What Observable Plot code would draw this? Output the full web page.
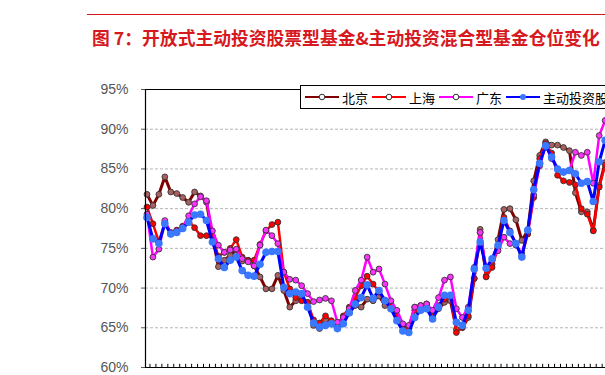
<!DOCTYPE html>
<html><head><meta charset="utf-8">
<script src="https://cdn.jsdelivr.net/npm/d3@7"></script>
<script src="https://cdn.jsdelivr.net/npm/@observablehq/plot@0.6"></script>
<style>
html,body{margin:0;padding:0;background:#fff}
body{width:605px;height:375px;overflow:hidden;position:relative}
#rule{position:absolute;left:87px;top:14px;width:530px;height:0;border-top:1.5px solid #d6191e}
#title{position:absolute;left:92px;top:24px;font-family:"Noto Sans CJK SC";font-weight:bold;font-size:17.8px;color:#d6191e;white-space:nowrap}
#chart{position:absolute;left:0;top:0}
#legend{position:absolute;left:300px;top:85px;width:340px;height:24px;border:1px solid #000;background:#fff;display:flex;align-items:center;padding-left:4px;box-sizing:border-box;font-family:"Noto Sans CJK SC";font-size:13px;color:#000;white-space:nowrap}
.item{display:flex;align-items:center;margin-right:4px}
.item svg{margin-right:3px}
</style>
</head><body>
<div id="rule"></div>
<div id="title">图 7：开放式主动投资股票型基金&amp;主动投资混合型基金仓位变化</div>
<div id="chart"></div>
<div id="legend"></div>
<script>
const seriesNames = ["北京", "上海", "广东", "主动投资股票型基金仓位"];
const yTicks = [60, 65, 70, 75, 80, 85, 90, 95];
const gridTicks = [65, 70, 75, 80, 85, 90];

const beijing = [81.8, 80.4, 81.8, 84.0, 82.1, 81.9, 81.4, 80.8, 82.1, 81.6,
 80.8, 76.5, 72.7, 73.5, 74.1, 74.8, 73.4, 73.5, 72.8, 71.4,
 69.9, 69.9, 71.6, 69.7, 67.6, 68.4, 68.8, 68.2, 65.3, 64.9,
 66.0, 65.5, 65.1, 66.1, 66.9, 67.8, 67.6, 68.6, 68.4, 69.0,
 67.8, 67.8, 66.5, 65.1, 64.9, 67.6, 67.8, 68.0, 66.3, 67.4,
 68.2, 68.4, 64.8, 65.0, 66.3, 71.2, 77.4, 71.5, 73.0, 76.1,
 79.9, 80.0, 78.6, 76.0, 77.2, 83.5, 86.7, 88.4, 88.0, 88.0,
 87.7, 87.3, 82.0, 79.6, 79.6, 77.3, 82.9, 85.8];
const shanghai = [80.2, 78.1, 75.8, 78.3, 77.0, 77.3, 77.8, 78.5, 77.6, 76.6,
 76.6, 76.5, 74.0, 74.5, 75.0, 76.1, 73.9, 73.5, 73.5, 75.5,
 77.2, 78.0, 78.3, 72.0, 69.9, 68.8, 68.4, 68.2, 66.0, 65.6,
 66.5, 65.9, 65.1, 66.5, 67.6, 68.8, 70.3, 71.5, 70.5, 69.5,
 68.5, 68.0, 66.5, 65.3, 64.9, 67.2, 67.6, 67.8, 66.5, 67.8,
 68.6, 69.1, 64.4, 65.1, 66.5, 71.2, 77.0, 71.4, 72.6, 75.1,
 78.9, 77.2, 75.6, 74.1, 76.8, 81.4, 86.3, 88.2, 87.0, 84.2,
 83.5, 83.3, 83.0, 80.0, 79.3, 77.2, 82.7, 85.5];
const guangdong = [79.3, 73.9, 74.9, 78.5, 76.8, 77.2, 77.7, 79.1, 80.6, 81.5,
 81.0, 77.2, 75.4, 74.5, 74.8, 74.9, 73.7, 73.3, 72.8, 75.4,
 77.3, 76.6, 75.6, 72.0, 71.1, 71.0, 70.3, 69.3, 68.3, 68.5,
 68.7, 68.4, 65.7, 66.3, 67.4, 69.7, 71.0, 73.9, 72.0, 72.4,
 70.5, 68.4, 67.2, 65.5, 65.3, 67.6, 67.8, 68.0, 67.2, 68.8,
 71.0, 71.4, 67.4, 66.3, 67.6, 72.6, 77.0, 72.5, 73.5, 74.7,
 76.4, 75.6, 75.4, 74.3, 77.2, 81.7, 85.4, 88.0, 86.3, 85.0,
 84.6, 84.8, 87.1, 86.7, 87.1, 83.2, 89.2, 91.1];
const active = [78.9, 76.2, 75.6, 78.1, 76.8, 77.0, 77.5, 78.3, 79.2, 79.3,
 78.5, 75.8, 73.7, 72.6, 73.5, 73.9, 72.2, 71.6, 71.5, 73.0,
 74.5, 74.6, 74.6, 70.1, 69.3, 69.5, 69.3, 67.6, 65.6, 65.1,
 65.3, 65.5, 64.9, 65.5, 66.9, 68.0, 68.8, 70.4, 68.7, 69.7,
 68.4, 67.4, 65.9, 64.6, 64.4, 66.3, 67.2, 67.4, 66.1, 67.6,
 69.1, 69.1, 65.7, 65.3, 67.2, 72.4, 75.8, 72.5, 73.7, 75.4,
 78.5, 77.0, 75.6, 73.9, 77.3, 82.4, 85.7, 87.9, 86.5, 85.0,
 84.6, 84.8, 84.4, 83.2, 83.4, 80.9, 85.9, 88.6];

const styles = [
  {values: beijing,   color: "#800000", width: 3,   r: 2.9, fill: "#a86060", stroke: "#333"},
  {values: shanghai,  color: "#ff0000", width: 2.5, r: 2.9, fill: "#ff0000", stroke: "#333"},
  {values: guangdong, color: "#ff00ff", width: 2.5, r: 2.9, fill: "#ff33ff", stroke: "#333"},
  {values: active,    color: "#0000ff", width: 3,   r: 3.8, fill: "#3a78ff", stroke: "none"}
];

const idx = d3.range(beijing.length);
const xDomain = [-0.25, 77.06];

const marks = [
  Plot.ruleY(gridTicks, {stroke: "#b4b4b4", strokeDasharray: "3,2", strokeWidth: 1}),
  Plot.ruleX(idx, {x: d => d + 0.5, y1: 60, y2: 60.4, stroke: "#000", strokeWidth: 1}),
];
styles.forEach(s => {
  marks.push(Plot.line(s.values, {x: (d, i) => i, y: d => d, stroke: s.color, strokeWidth: s.width, strokeLinejoin: "round"}));
  marks.push(Plot.dot(s.values, {x: (d, i) => i, y: d => d, r: s.r, fill: s.fill, stroke: s.stroke, strokeWidth: 0.9}));
});
marks.push(Plot.ruleY([60], {stroke: "#000", strokeWidth: 1.2}));
marks.push(Plot.ruleY([95], {stroke: "#000", strokeWidth: 1}));
marks.push(Plot.ruleX([xDomain[0]], {stroke: "#000", strokeWidth: 1.2}));

const chart = Plot.plot({
  width: 605, height: 375,
  marginTop: 89, marginBottom: 8, marginLeft: 145, marginRight: 0,
  style: {fontFamily: "'Liberation Sans', Arial, sans-serif", fontSize: "14px", color: "#555", background: "transparent"},
  x: {domain: xDomain, axis: null},
  y: {domain: [60, 95], ticks: yTicks, tickFormat: d => d + "%", tickSize: 4, tickPadding: 13, label: null},
  marks
});
document.getElementById("chart").appendChild(chart);

// legend
const legend = document.getElementById("legend");
styles.forEach((s, k) => {
  const item = document.createElement("div");
  item.className = "item";
  const mk = s.stroke === "none"
    ? `<circle cx="17" cy="6" r="3" fill="${s.fill}"/>`
    : `<circle cx="17" cy="6" r="2.8" fill="#fff" stroke="#333" stroke-width="1"/>`;
  item.innerHTML = `<svg width="34" height="12"><line x1="0" x2="34" y1="6" y2="6" stroke="${s.color}" stroke-width="2"/>${mk}</svg><span>${seriesNames[k]}</span>`;
  legend.appendChild(item);
});
</script>
</body></html>
